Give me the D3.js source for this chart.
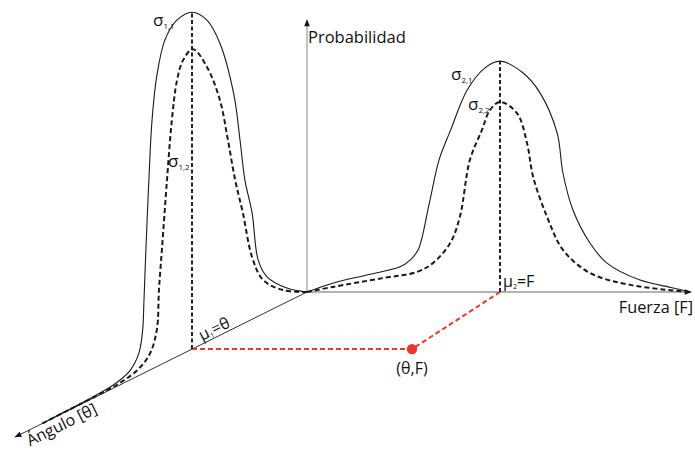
<!DOCTYPE html>
<html><head><meta charset="utf-8">
<script src="https://cdn.jsdelivr.net/npm/d3@7"></script>
<style>
html,body{margin:0;padding:0;background:#fff;}
svg{display:block;font-family:"Open Sans",sans-serif;}
</style></head>
<body>
<svg id="c" width="695" height="450"></svg>
<script>
// ---- data ----
// Left distribution, plotted in the Ángulo–Probabilidad plane
const leftSolidA = [0, 0.70, 1.39, 1.70, 1.91, 2.16, 2.33, 2.54, 3.03, 3.48, 4.00, 4.52, 4.94, 5.22, 5.39, 5.50, 5.60, 5.67, 5.72, 5.85, 6.15, 6.70, 7.50, 8.40, 9.20];
const leftSolidP = [0, 0.041, 0.103, 0.166, 0.313, 0.420, 0.545, 0.686, 0.859, 0.946, 0.991, 0.990, 0.949, 0.857, 0.732, 0.560, 0.367, 0.215, 0.125, 0.065, 0.028, 0.010, 0.004, 0.002, 0];
const leftDashA = [0, 0.84, 1.53, 1.91, 2.23, 2.50, 2.75, 3.03, 3.48, 3.97, 4.31, 4.52, 4.70, 4.87, 5.04, 5.15, 5.22, 5.45, 5.85, 6.50, 7.40, 8.40, 9.20];
const leftDashP = [0, 0.041, 0.100, 0.183, 0.326, 0.435, 0.562, 0.692, 0.808, 0.881, 0.863, 0.813, 0.703, 0.534, 0.344, 0.222, 0.110, 0.050, 0.020, 0.006, 0.002, 0.001, 0];
// Right distribution, plotted in the Fuerza–Probabilidad plane
const rightSolidF = [0, 0.67, 1.55, 2.41, 2.67, 2.88, 3.17, 3.42, 3.72, 4.15, 4.62, 5.00, 5.60, 6.04, 6.48, 6.63, 6.89, 7.33, 7.77, 8.63, 9.48, 9.92];
const rightSolidP = [0, 0.026, 0.050, 0.074, 0.094, 0.124, 0.262, 0.388, 0.476, 0.594, 0.660, 0.679, 0.644, 0.585, 0.468, 0.350, 0.241, 0.144, 0.085, 0.035, 0.012, 0];
const rightDashF = [0, 0.67, 1.97, 2.85, 3.26, 3.71, 3.96, 4.22, 4.53, 4.74, 5.00, 5.44, 5.70, 5.86, 6.22, 6.63, 7.33, 8.37, 9.92];
const rightDashP = [0, 0.015, 0.041, 0.059, 0.085, 0.144, 0.221, 0.388, 0.476, 0.535, 0.559, 0.526, 0.438, 0.338, 0.221, 0.124, 0.056, 0.021, 0];
const mu1 = 4, mu2 = 5;
const peak1 = 0.991, peak2 = 0.679;
const jointF = 2.72;   // position of the (θ,F) point along the Fuerza direction
const axisLabels = {prob: "Probabilidad", force: "Fuerza [F]", angle: "Ángulo [θ]"};

// ---- scales ----
const ox = 307, oy = 292;
const fX = d3.scaleLinear().domain([0, 10]).range([ox, 693]);           // Fuerza axis
const aX = d3.scaleLinear().domain([0, 10]).range([ox, ox - 287.5]);    // Ángulo axis (x part)
const aY = d3.scaleLinear().domain([0, 10]).range([oy, oy + 142.8]);    // Ángulo axis (y part)
const pH = d3.scaleLinear().domain([0, 1]).range([0, 340]);             // Probability height

const svg = d3.select("#c");
const defs = svg.append("defs");
defs.append("marker").attr("id", "arr").attr("viewBox", "0 0 10 10")
  .attr("refX", 9).attr("refY", 5).attr("markerWidth", 8).attr("markerHeight", 7)
  .attr("markerUnits", "userSpaceOnUse").attr("orient", "auto")
  .append("path").attr("d", "M0,1 L10,5 L0,9 Z").attr("fill", "#111");

const leftPt = (a, p) => [aX(a), aY(a) - pH(p)];
const rightPt = (f, p) => [fX(f), oy - pH(p)];
const line = d3.line().curve(d3.curveCatmullRom.alpha(0.5));

// ---- axes ----
svg.append("line").attr("x1", ox).attr("y1", oy).attr("x2", ox).attr("y2", oy - pH(0.8))
  .attr("stroke", "#9a9a9a").attr("stroke-width", 1.2).attr("marker-end", "url(#arr)");
svg.append("line").attr("x1", ox).attr("y1", oy).attr("x2", fX(9.95)).attr("y2", oy)
  .attr("stroke", "#666").attr("stroke-width", 1.2).attr("marker-end", "url(#arr)");
svg.append("line").attr("x1", ox).attr("y1", oy).attr("x2", aX(10.15)).attr("y2", aY(10.15))
  .attr("stroke", "#333").attr("stroke-width", 1).attr("marker-end", "url(#arr)");

// ---- red projection lines ----
const pt = [fX(jointF), aY(mu1)];
svg.append("path")
  .attr("d", `M${aX(mu1)},${aY(mu1)} L${pt[0]},${pt[1]} L${fX(mu2)},${oy}`)
  .attr("fill", "none").attr("stroke", "#e8392c").attr("stroke-width", 2).attr("stroke-dasharray", "5,3");
svg.append("circle").attr("cx", pt[0]).attr("cy", pt[1]).attr("r", 5.2).attr("fill", "#e8392c");

// ---- mean verticals ----
svg.append("line").attr("x1", aX(mu1)).attr("y1", aY(mu1)).attr("x2", aX(mu1)).attr("y2", aY(mu1) - pH(peak1))
  .attr("stroke", "#222").attr("stroke-width", 2).attr("stroke-dasharray", "4,2.5");
svg.append("line").attr("x1", fX(mu2)).attr("y1", oy).attr("x2", fX(mu2)).attr("y2", oy - pH(peak2))
  .attr("stroke", "#222").attr("stroke-width", 2).attr("stroke-dasharray", "4,2.5");

// ---- curves ----
const zip = (xs, ys, f) => xs.map((x, i) => f(x, ys[i]));
svg.append("path").attr("d", line(zip(leftSolidA, leftSolidP, leftPt)))
  .attr("fill", "none").attr("stroke", "#1a1a1a").attr("stroke-width", 1.1);
svg.append("path").attr("d", line(zip(leftDashA, leftDashP, leftPt)))
  .attr("fill", "none").attr("stroke", "#1a1a1a").attr("stroke-width", 2).attr("stroke-dasharray", "5,3");
svg.append("path").attr("d", line(zip(rightSolidF, rightSolidP, rightPt)))
  .attr("fill", "none").attr("stroke", "#1a1a1a").attr("stroke-width", 1.1);
svg.append("path").attr("d", line(zip(rightDashF, rightDashP, rightPt)))
  .attr("fill", "none").attr("stroke", "#1a1a1a").attr("stroke-width", 2).attr("stroke-dasharray", "5,3");

// ---- labels ----
const txt = (x, y, s, size, anchor) => svg.append("text").attr("x", x).attr("y", y)
  .attr("font-size", size).attr("fill", "#111").attr("text-anchor", anchor || "start").text(s);

txt(308, 43, axisLabels.prob, 16.5);
txt(693, 313, axisLabels.force, 16.3, "end");
svg.append("text").attr("transform", `translate(30,446.5) rotate(-26.4)`)
  .attr("font-size", 16).attr("fill", "#111").text(axisLabels.angle);

function sigma(x, y, sub) {
  const t = svg.append("text").attr("x", x).attr("y", y).attr("fill", "#111");
  t.append("tspan").attr("font-size", 17).text("σ");
  t.append("tspan").attr("font-size", 8).attr("dy", 3).text(sub);
}
sigma(153, 26, "1,1");
sigma(168, 167, "1,2");
sigma(451, 80, "2,1");
sigma(468, 110, "2,2");

// μ2=F
const m2 = svg.append("text").attr("x", fX(mu2) + 3).attr("y", oy - 5).attr("fill", "#111");
m2.append("tspan").attr("font-size", 16).text("μ");
m2.append("tspan").attr("font-size", 7).attr("dy", 2).text("2");
m2.append("tspan").attr("font-size", 16).attr("dy", -2).text("=F");

// μ1=θ (rotated along Ángulo axis)
const m1 = svg.append("text").attr("transform", `translate(${aX(mu1) + 10},${aY(mu1) - 8}) rotate(-26.4)`).attr("fill", "#111");
m1.append("tspan").attr("font-size", 16).text("μ");
m1.append("tspan").attr("font-size", 7).attr("dy", 2).text("1");
m1.append("tspan").attr("font-size", 16).attr("dy", -2).text("=θ");

txt(pt[0], pt[1] + 25, "(θ,F)", 16, "middle");
</script>
</body></html>
